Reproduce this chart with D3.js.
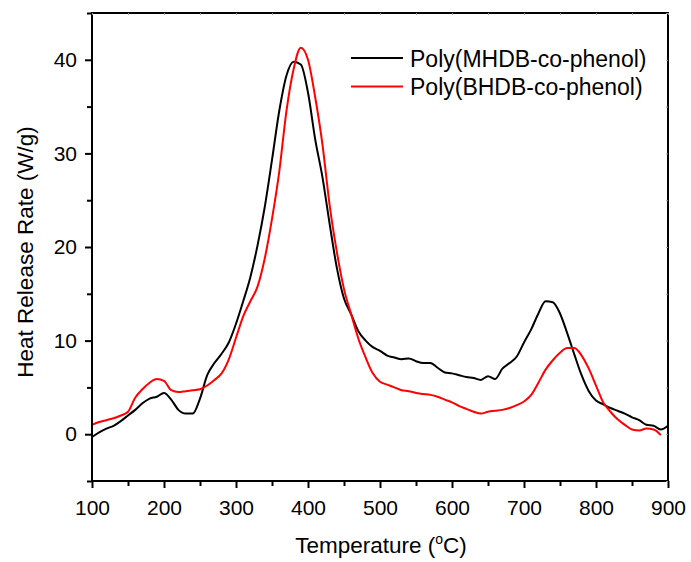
<!DOCTYPE html>
<html>
<head>
<meta charset="utf-8">
<script src="https://cdn.jsdelivr.net/npm/d3@7"></script>
<style>
  body { margin: 0; background: #fff; }
  svg { display: block; }
  text { font-family: "Liberation Sans", Arial, sans-serif; fill: #000; }
</style>
</head>
<body>
<script>
// Heat release rate curves (every 10 degC)
const temperature = [100,110,120,130,140,150,160,170,180,190,200,210,220,230,240,250,260,270,280,290,
  300,310,320,330,340,350,360,370,380,390,400,410,420,430,440,450,460,470,480,490,
  500,510,520,530,540,550,560,570,580,590,600,610,620,630,640,650,660,670,680,690,
  700,710,720,730,740,750,760,770,780,790,800,810,820,830,840,850,860,870,880,890,900];

const mhdb = [-0.3,0.2,0.6,0.9,1.4,2.0,2.6,3.3,3.8,4.0,4.4,3.7,2.6,2.2,2.2,3.8,6.3,7.6,8.6,9.8,
  11.8,14.2,16.8,20.2,24.3,29.3,34.5,38.3,39.8,39.5,36.5,31.5,27.5,22.5,17.8,14.5,12.8,11.0,10.0,9.3,
  8.9,8.4,8.2,8.0,8.1,7.8,7.6,7.6,7.1,6.6,6.5,6.3,6.1,6.0,5.8,6.2,5.9,7.0,7.6,8.3,
  9.8,11.2,12.9,14.2,14.1,12.9,10.8,8.5,6.3,4.6,3.6,3.2,2.8,2.5,2.2,1.8,1.5,1.0,0.9,0.5,0.9];

const bhdb = [1.0,1.3,1.5,1.7,2.0,2.4,3.9,4.8,5.5,5.9,5.7,4.7,4.5,4.6,4.7,4.8,5.2,5.8,6.5,8.0,
  10.3,12.6,14.2,15.8,18.8,23.0,28.0,34.5,39.0,41.3,40.0,36.0,31.0,24.5,19.5,15.5,12.8,10.2,8.2,6.5,
  5.6,5.3,5.0,4.7,4.6,4.4,4.3,4.2,4.0,3.7,3.4,3.0,2.7,2.4,2.2,2.4,2.5,2.6,2.8,3.1,
  3.5,4.2,5.5,6.9,7.9,8.7,9.2,9.2,8.4,7.0,5.2,3.4,2.4,1.6,1.0,0.5,0.4,0.6,0.5,-0.1,null];

const seriesNames = ["Poly(MHDB-co-phenol)", "Poly(BHDB-co-phenol)"];
const seriesColors = ["#000000", "#ff0000"];

const xTicks = [100,200,300,400,500,600,700,800,900];
const xMinor = [150,250,350,450,550,650,750,850];
const yTicks = [0,10,20,30,40];
const yMinor = [-5,5,15,25,35,45];

// Margin convention
const margin = {top: 13, right: 23, bottom: 81, left: 92};
const W = 691, H = 562;
const width = W - margin.left - margin.right,
      height = H - margin.top - margin.bottom;

const svg = d3.select("body").append("svg")
  .attr("width", W)
  .attr("height", H);

const g = svg.append("g")
  .attr("transform", `translate(${margin.left},${margin.top})`);

const x = d3.scaleLinear().domain([100, 900]).range([0, width]);
const y = d3.scaleLinear().domain([-5, 45]).range([height, 0]);

const line = d3.line()
  .defined(d => d[1] != null)
  .x(d => x(d[0]))
  .y(d => y(d[1]))
  .curve(d3.curveMonotoneX);

[mhdb, bhdb].forEach((vals, i) => {
  g.append("path")
    .datum(temperature.map((t, k) => [t, vals[k]]))
    .attr("fill", "none")
    .attr("stroke", seriesColors[i])
    .attr("stroke-width", 2)
    .attr("stroke-linejoin", "round")
    .attr("d", line);
});

// frame
g.append("rect")
  .attr("width", width).attr("height", height)
  .attr("fill", "none").attr("stroke", "#000").attr("stroke-width", 2);

function styleAxis(sel) {
  sel.select(".domain").remove();
  sel.selectAll(".tick line").attr("stroke", "#000").attr("stroke-width", 2);
  sel.selectAll(".tick text").attr("font-size", 21);
}

// bottom axis
g.append("g").attr("transform", `translate(0,${height})`)
  .call(d3.axisBottom(x).tickValues(xTicks).tickSize(7).tickPadding(12).tickFormat(d3.format("d")))
  .call(styleAxis);
g.append("g").attr("transform", `translate(0,${height})`)
  .call(d3.axisBottom(x).tickValues(xMinor).tickSize(5).tickFormat(""))
  .call(styleAxis);

// left axis
g.append("g")
  .call(d3.axisLeft(y).tickValues(yTicks).tickSize(7).tickPadding(8).tickFormat(d3.format("d")))
  .call(styleAxis);
g.append("g")
  .call(d3.axisLeft(y).tickValues(yMinor).tickSize(5).tickFormat(""))
  .call(styleAxis);

// tiny inward ticks on top and right
g.append("g")
  .call(d3.axisBottom(x).tickValues(xTicks.concat(xMinor)).tickSize(2).tickFormat(""))
  .call(s => { s.select(".domain").remove(); s.selectAll(".tick line").attr("stroke", "#999").attr("stroke-width", 1); });
g.append("g").attr("transform", `translate(${width},0)`)
  .call(d3.axisLeft(y).tickValues(yTicks.concat(yMinor)).tickSize(2).tickFormat(""))
  .call(s => { s.select(".domain").remove(); s.selectAll(".tick line").attr("stroke", "#999").attr("stroke-width", 1); });

// axis titles
const xt = svg.append("text")
  .attr("x", margin.left + width / 2 + 1)
  .attr("y", 553)
  .attr("text-anchor", "middle")
  .attr("font-size", 22.5);
xt.append("tspan").text("Temperature (");
xt.append("tspan").text("o").attr("font-size", 14).attr("dy", -9);
xt.append("tspan").text("C)").attr("dy", 9);

svg.append("text")
  .attr("transform", `translate(33,${margin.top + height / 2 + 5}) rotate(-90)`)
  .attr("text-anchor", "middle")
  .attr("font-size", 22.5)
  .text("Heat Release Rate (W/g)");

// legend
const legend = svg.append("g").attr("transform", "translate(351,58)");
seriesNames.forEach((name, i) => {
  const row = legend.append("g").attr("transform", `translate(0,${i * 28.5})`);
  row.append("line")
    .attr("x1", 0).attr("x2", 52)
    .attr("stroke", seriesColors[i]).attr("stroke-width", 2);
  row.append("text")
    .attr("x", 59).attr("y", 8.5)
    .attr("font-size", 23)
    .text(name);
});
</script>
</body>
</html>
